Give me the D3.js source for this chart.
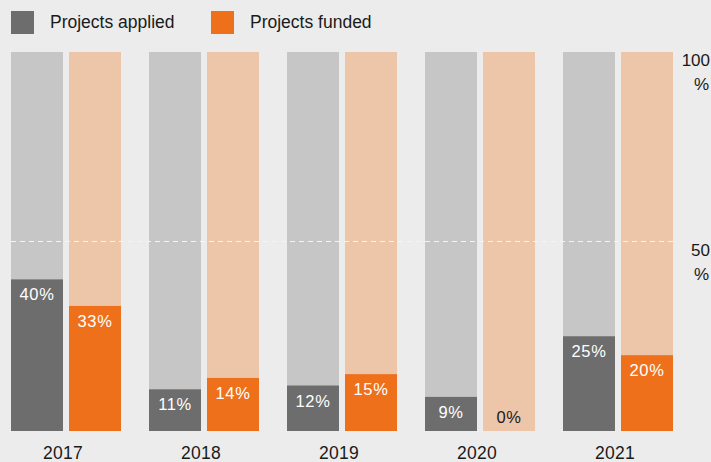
<!DOCTYPE html>
<html><head><meta charset="utf-8">
<script src="https://cdn.jsdelivr.net/npm/d3@7"></script>
<style>
html,body{margin:0;padding:0;background:#ececec;}
svg{display:block;font-family:"Liberation Sans",Arial,Helvetica,sans-serif;}
</style></head>
<body><svg id="c" width="711" height="462"></svg>
<script>
const years = ["2017","2018","2019","2020","2021"];
const applied = [40, 11, 12, 9, 25];
const funded = [33, 14, 15, 0, 20];
const seriesNames = ["Projects applied","Projects funded"];
const yTicks = [100, 50];

const colors = {
  appliedDark:"#6d6d6d", appliedLight:"#c6c6c6",
  fundedDark:"#ee701b", fundedLight:"#edc6aa"
};

const svg = d3.select("#c");
const xg = d3.scaleBand().domain(years).range([11, 673]).paddingInner(28/138).paddingOuter(0);
const x1 = d3.scaleBand().domain(["a","f"]).range([0, xg.bandwidth()]).paddingInner(6/58);
const y = d3.scaleLinear().domain([0,100]).range([431, 52]);

const data = years.map((yr,i)=>({yr, a:applied[i], f:funded[i]}));

const g = svg.append("g");
data.forEach(d=>{
  const gx = xg(d.yr);
  [["a",d.a,colors.appliedLight,colors.appliedDark],["f",d.f,colors.fundedLight,colors.fundedDark]].forEach(([k,v,lc,dc])=>{
    const bx = gx + x1(k);
    g.append("rect").attr("x",bx).attr("y",y(100)).attr("width",x1.bandwidth()).attr("height",y(0)-y(100)).attr("fill",lc);
    g.append("rect").attr("x",bx).attr("y",y(v)).attr("width",x1.bandwidth()).attr("height",y(0)-y(v)).attr("fill",dc);
  });
});

// 50% dashed line
svg.append("line").attr("x1",11).attr("x2",xg(years[4])+xg.bandwidth()).attr("y1",y(50)).attr("y2",y(50))
  .attr("stroke","#f4f4f4").attr("stroke-width",1.2).attr("stroke-dasharray","5,4");

// value labels
data.forEach(d=>{
  const gx = xg(d.yr);
  [["a",d.a],["f",d.f]].forEach(([k,v])=>{
    const cx = gx + x1(k) + x1.bandwidth()/2;
    const zero = v===0;
    svg.append("text").attr("x",cx).attr("y", zero ? y(0)-8 : y(v)+21)
      .attr("text-anchor","middle").attr("font-size",16.5).attr("letter-spacing",0.6)
      .attr("fill", zero ? "#1a1a1a" : "#ffffff").text(v+"%");
  });
});

// year labels
data.forEach(d=>{
  svg.append("text").attr("x",xg(d.yr)+xg.bandwidth()/2-3).attr("y",459)
    .attr("text-anchor","middle").attr("font-size",17.5).attr("letter-spacing",0.3)
    .attr("fill","#1a1a1a").text(d.yr);
});

// right axis labels
yTicks.forEach(t=>{
  const tg = svg.append("text").attr("text-anchor","end").attr("font-size",17).attr("fill","#1a1a1a");
  tg.append("tspan").attr("x",710).attr("y",y(t)+14).text(t);
  tg.append("tspan").attr("x",709).attr("y",y(t)+38).text("%");
});

// legend
const leg = [[seriesNames[0],colors.appliedDark,11],[seriesNames[1],colors.fundedDark,211]];
leg.forEach(([name,c,lx])=>{
  svg.append("rect").attr("x",lx).attr("y",11).attr("width",23).attr("height",23).attr("fill",c);
  svg.append("text").attr("x",lx+39).attr("y",28).attr("font-size",17.5).attr("fill","#1a1a1a").text(name);
});
</script></body></html>
